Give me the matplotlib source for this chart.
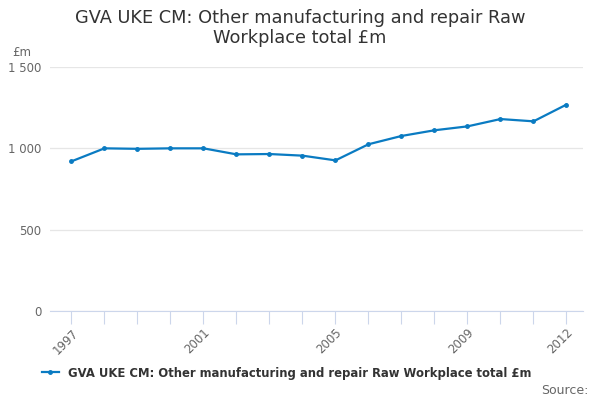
import matplotlib
matplotlib.use("Agg")
import matplotlib.pyplot as plt
from matplotlib.ticker import FuncFormatter

# Data
years = list(range(1997, 2013))
values = [920, 1000, 997, 1000, 1000, 963, 965, 955, 926, 1025,
          1076, 1111, 1135, 1180, 1166, 1269]
label_years = [1997, 2001, 2005, 2009, 2012]
title = "GVA UKE CM: Other manufacturing and repair Raw\nWorkplace total £m"
series_name = "GVA UKE CM: Other manufacturing and repair Raw Workplace total £m"


def thousands(v, pos):
    return "{:,.0f}".format(v).replace(",", " ")


def main():
    fig = plt.figure(figsize=(6, 4), dpi=100)
    ax = fig.add_axes([50 / 600, 1 - 311 / 400, 533 / 600, 244 / 400])

    line, = ax.plot(years, values, color="#0a7bc2", linewidth=1.6,
                    marker="o", markersize=2.5)

    ax.set_ylim(0, 1500)
    ax.set_xlim(1996.35, 2012.5)
    ax.set_yticks([0, 500, 1000, 1500])
    ax.yaxis.set_major_formatter(FuncFormatter(thousands))
    ax.grid(axis="y", color="#e6e6e6", linewidth=0.9)
    ax.set_axisbelow(True)

    ax.set_xticks(years)
    ax.set_xticklabels([str(y) if y in label_years else "" for y in years],
                       rotation=45, ha="right", rotation_mode="anchor")
    ax.tick_params(axis="x", length=9, color="#ccd6eb", labelcolor="#666666",
                   labelsize=8.5, pad=2)
    ax.tick_params(axis="y", length=0, labelcolor="#666666", labelsize=8.5, pad=6)

    for s in ["top", "right", "left"]:
        ax.spines[s].set_visible(False)
    ax.spines["bottom"].set_color("#ccd6eb")

    fig.text(12 / 600, 1 - 52 / 400, "£m", fontsize=8.5, color="#666666",
             va="center")
    fig.text(0.5, 1 - 28 / 400, title, fontsize=12.8, color="#333333",
             ha="center", va="center", linespacing=1.1)

    fig.legend([line], [series_name], loc="center",
               bbox_to_anchor=(0.478, 1 - 373 / 400), frameon=False,
               prop={"weight": "bold", "size": 8.4}, handlelength=1.4,
               labelcolor="#333333")
    fig.text(589 / 600, 1 - 390 / 400, "Source:", fontsize=9, color="#666666",
             ha="right", va="center")

    fig.savefig("out.png", dpi=100)


if __name__ == '__main__':
    main()
